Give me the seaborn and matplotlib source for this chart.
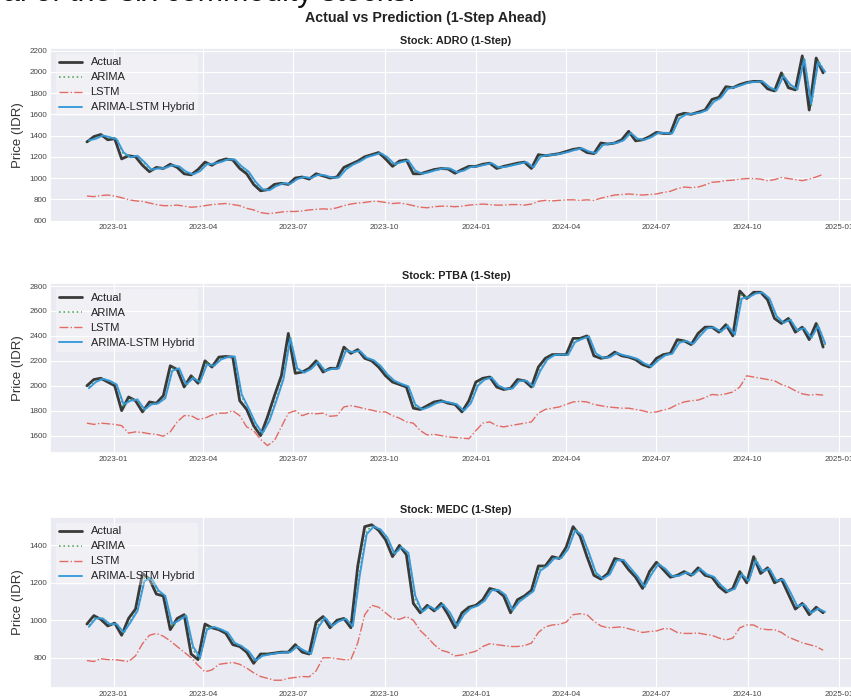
import matplotlib
matplotlib.use("Agg")
import matplotlib.pyplot as plt
import matplotlib.dates as mdates
import numpy as np
import pandas as pd
import seaborn as sns

# ---------------- data (weekly samples) ----------------
start_date = "2022-12-05"
n_points = 107

adro_actual = [
    1340, 1390, 1410, 1360, 1370, 1180, 1210, 1200, 1120, 1060,
    1100, 1090, 1130, 1100, 1040, 1030, 1080, 1150, 1120, 1160,
    1180, 1170, 1090, 1040, 940, 880, 890, 940, 950, 940,
    1000, 1010, 990, 1040, 1020, 1000, 1010, 1100, 1130, 1160,
    1200, 1220, 1240, 1180, 1110, 1160, 1170, 1040, 1040, 1060,
    1080, 1090, 1085, 1045, 1080, 1110, 1110, 1130, 1140, 1090,
    1110, 1125, 1140, 1150, 1090, 1220, 1210, 1220, 1230, 1250,
    1270, 1280, 1240, 1230, 1330, 1320, 1330, 1360, 1440, 1350,
    1360, 1390, 1430, 1420, 1420, 1590, 1610, 1600, 1620, 1640,
    1740, 1760, 1860, 1850, 1880, 1900, 1910, 1910, 1840, 1820,
    1990, 1850, 1830, 2150, 1640, 2130, 1990]
adro_arima = [
    1345, 1380, 1405, 1375, 1368, 1220, 1200, 1205, 1135, 1070,
    1095, 1092, 1125, 1105, 1050, 1032, 1072, 1140, 1128, 1155,
    1178, 1172, 1100, 1050, 955, 888, 888, 932, 950, 942,
    995, 1010, 995, 1035, 1022, 1002, 1008, 1090, 1128, 1158,
    1198, 1218, 1238, 1188, 1120, 1155, 1168, 1055, 1040, 1058,
    1078, 1090, 1088, 1050, 1075, 1108, 1110, 1128, 1140, 1095,
    1108, 1122, 1138, 1150, 1095, 1210, 1212, 1220, 1230, 1248,
    1268, 1280, 1245, 1232, 1320, 1322, 1330, 1358, 1432, 1360,
    1360, 1388, 1428, 1422, 1420, 1575, 1605, 1602, 1618, 1640,
    1730, 1758, 1850, 1852, 1878, 1900, 1908, 1910, 1848, 1822,
    1975, 1865, 1832, 2135, 1670, 2110, 1995]
adro_lstm = [
    830, 825, 835, 840, 830, 815, 795, 785, 780, 765,
    750, 740, 740, 745, 735, 725, 730, 740, 750, 755,
    760, 750, 740, 715, 700, 675, 665, 670, 680, 685,
    685, 690, 700, 705, 710, 705, 720, 740, 755, 765,
    770, 780, 780, 770, 760, 765, 755, 740, 725, 720,
    730, 735, 735, 730, 735, 745, 750, 755, 750, 745,
    745, 750, 750, 745, 755, 780, 790, 785, 790, 795,
    795, 790, 795, 790, 810, 825, 840, 845, 850, 845,
    840, 845, 850, 865, 875, 900, 915, 910, 915, 935,
    960, 965, 975, 980, 990, 995, 995, 990, 975, 985,
    1005, 995, 985, 975, 990, 1010, 1035]
adro_hybrid = [
    1355, 1370, 1400, 1385, 1365, 1240, 1195, 1210, 1150, 1080,
    1090, 1095, 1120, 1110, 1060, 1035, 1065, 1130, 1135, 1150,
    1175, 1175, 1110, 1060, 965, 895, 885, 925, 950, 945,
    990, 1010, 1000, 1030, 1025, 1005, 1005, 1080, 1125, 1155,
    1195, 1215, 1235, 1195, 1130, 1150, 1165, 1070, 1040, 1055,
    1075, 1090, 1090, 1055, 1070, 1105, 1110, 1125, 1140, 1100,
    1105, 1120, 1135, 1150, 1100, 1200, 1215, 1220, 1230, 1245,
    1265, 1280, 1250, 1235, 1310, 1325, 1330, 1355, 1425, 1370,
    1360, 1385, 1425, 1425, 1420, 1560, 1600, 1605, 1615, 1640,
    1720, 1755, 1840, 1855, 1875, 1900, 1905, 1910, 1855, 1825,
    1960, 1880, 1835, 2120, 1700, 2090, 2000]

ptba_actual = [
    2000, 2050, 2060, 2030, 2000, 1800, 1910, 1880, 1790, 1870,
    1860, 1920, 2160, 2130, 1990, 2080, 2020, 2200, 2150, 2230,
    2235, 2230, 1880, 1810, 1680, 1600, 1750, 1920, 2080, 2420,
    2100, 2110, 2140, 2200, 2110, 2140, 2140, 2310, 2260, 2290,
    2220, 2200, 2150, 2080, 2030, 2010, 1990, 1820, 1810, 1840,
    1870, 1880, 1860, 1850, 1790, 1880, 2030, 2060, 2070, 1990,
    1970, 1980, 2050, 2040, 1990, 2150, 2220, 2250, 2250, 2250,
    2380, 2380, 2400, 2240, 2220, 2230, 2270, 2240, 2230, 2210,
    2170, 2150, 2220, 2250, 2260, 2370, 2360, 2330, 2420, 2470,
    2470, 2430, 2490, 2400, 2760, 2700, 2750, 2750, 2690, 2540,
    2500, 2540, 2430, 2470, 2370, 2500, 2310]
ptba_arima = [
    1990, 2040, 2058, 2035, 2005, 1830, 1895, 1885, 1800, 1860,
    1860, 1910, 2140, 2135, 2000, 2070, 2025, 2185, 2155, 2220,
    2232, 2232, 1910, 1815, 1690, 1610, 1735, 1900, 2065, 2400,
    2120, 2108, 2138, 2195, 2115, 2138, 2140, 2295, 2265, 2285,
    2222, 2202, 2155, 2085, 2035, 2012, 1992, 1835, 1810, 1835,
    1865, 1878, 1862, 1850, 1795, 1870, 2015, 2055, 2068, 1995,
    1972, 1980, 2045, 2040, 1992, 2135, 2215, 2248, 2250, 2249,
    2365, 2378, 2398, 2250, 2222, 2229, 2266, 2242, 2231, 2212,
    2174, 2152, 2212, 2248, 2259, 2358, 2360, 2332, 2410, 2465,
    2469, 2432, 2485, 2405, 2730, 2705, 2745, 2749, 2695, 2550,
    2502, 2535, 2438, 2466, 2378, 2490, 2325]
ptba_lstm = [
    1700, 1690, 1700, 1695, 1690, 1680, 1620, 1630, 1625, 1615,
    1610, 1595, 1630, 1710, 1760, 1760, 1730, 1740, 1765, 1780,
    1780, 1800, 1760, 1670, 1640, 1570, 1520, 1560, 1670, 1780,
    1800, 1760, 1780, 1775, 1780, 1755, 1760, 1830, 1840, 1830,
    1815, 1805, 1790, 1790, 1760, 1740, 1710, 1700, 1640, 1605,
    1610, 1600, 1590, 1585, 1580, 1575, 1640, 1700, 1710, 1680,
    1670, 1680, 1690, 1700, 1710, 1780, 1810, 1820, 1830, 1850,
    1870, 1875, 1870, 1850, 1840, 1830, 1825, 1820, 1820, 1810,
    1800, 1785, 1790, 1805, 1820, 1850, 1870, 1880, 1885, 1905,
    1930, 1925, 1935, 1950, 1990, 2080, 2070, 2060, 2050, 2040,
    2010, 1990, 1960, 1935, 1925, 1930, 1925]
ptba_hybrid = [
    1980, 2030, 2055, 2040, 2010, 1850, 1880, 1890, 1810, 1850,
    1860, 1900, 2120, 2140, 2010, 2060, 2030, 2170, 2160, 2210,
    2230, 2235, 1930, 1820, 1700, 1620, 1720, 1880, 2050, 2380,
    2140, 2105, 2135, 2190, 2120, 2135, 2140, 2280, 2270, 2280,
    2225, 2205, 2160, 2090, 2040, 2015, 1995, 1850, 1810, 1830,
    1860, 1875, 1865, 1850, 1800, 1860, 2000, 2050, 2065, 2000,
    1975, 1978, 2040, 2040, 1995, 2120, 2210, 2245, 2250, 2248,
    2350, 2375, 2395, 2260, 2225, 2228, 2262, 2245, 2232, 2215,
    2178, 2155, 2205, 2245, 2258, 2345, 2360, 2335, 2400, 2460,
    2468, 2435, 2480, 2410, 2700, 2710, 2740, 2748, 2700, 2560,
    2505, 2530, 2445, 2462, 2385, 2480, 2340]

medc_actual = [
    980, 1025, 1005, 970, 985, 920, 1010, 1060, 1250, 1220,
    1140, 1130, 950, 1010, 1030, 820, 790, 980, 960, 950,
    930, 870, 860, 830, 770, 820, 820, 825, 830, 830,
    870, 830, 820, 990, 1020, 960, 1000, 1010, 960, 1290,
    1500, 1510, 1480, 1430, 1340, 1400, 1350, 1090, 1040, 1080,
    1050, 1090, 1030, 960, 1040, 1070, 1080, 1110, 1170, 1160,
    1130, 1040, 1110, 1130, 1160, 1290, 1290, 1340, 1330, 1390,
    1500, 1450, 1340, 1240, 1220, 1250, 1330, 1320, 1270, 1230,
    1170, 1260, 1310, 1270, 1230, 1240, 1260, 1240, 1280, 1240,
    1230, 1180, 1150, 1170, 1260, 1200, 1340, 1250, 1280, 1200,
    1220, 1140, 1060, 1090, 1030, 1070, 1040]
medc_arima = [
    972, 1018, 1008, 975, 982, 928, 1000, 1055, 1230, 1222,
    1150, 1130, 965, 1005, 1028, 840, 795, 965, 962, 951,
    932, 875, 861, 832, 778, 815, 819, 825, 829, 830,
    865, 834, 821, 975, 1018, 965, 998, 1009, 964, 1265,
    1480, 1505, 1482, 1435, 1348, 1395, 1355, 1110, 1042, 1078,
    1052, 1088, 1035, 965, 1035, 1068, 1079, 1108, 1165, 1161,
    1132, 1048, 1105, 1129, 1158, 1278, 1290, 1335, 1331, 1385,
    1490, 1452, 1350, 1248, 1221, 1248, 1325, 1321, 1274, 1232,
    1175, 1252, 1305, 1272, 1232, 1239, 1258, 1241, 1278, 1242,
    1231, 1184, 1152, 1169, 1252, 1205, 1330, 1256, 1278, 1205,
    1219, 1145, 1068, 1088, 1035, 1066, 1042]
medc_lstm = [
    785, 780, 795, 790, 790, 785, 780, 810, 875, 920,
    930, 915, 890, 860, 830, 800, 760, 725, 735, 765,
    770, 775, 765, 745, 720, 700, 690, 680, 680, 690,
    695, 700, 698, 730, 800, 800, 795, 790, 790, 880,
    1030, 1080, 1070, 1040, 1010, 1005, 1020, 1000, 945, 910,
    870, 840, 830, 810, 815, 825, 835, 860, 875, 870,
    865, 860, 860, 865, 878, 935, 965, 975, 978, 990,
    1030, 1035, 1030, 995, 970, 960, 962, 965, 955, 945,
    935, 940, 943, 955, 955, 935, 930, 930, 932, 925,
    920, 905, 895, 905, 960, 975, 975, 955, 950, 950,
    935, 910, 895, 880, 870, 860, 840]
medc_hybrid = [
    965, 1010, 1010, 980, 980, 935, 990, 1050, 1210, 1225,
    1160, 1130, 980, 1000, 1025, 860, 800, 950, 965, 952,
    935, 880, 862, 835, 785, 810, 818, 824, 828, 830,
    860, 838, 822, 960, 1015, 970, 995, 1008, 968, 1240,
    1460, 1500, 1485, 1440, 1355, 1390, 1360, 1130, 1045, 1075,
    1055, 1085, 1040, 970, 1030, 1065, 1078, 1105, 1160, 1162,
    1135, 1055, 1100, 1128, 1155, 1265, 1290, 1330, 1332, 1380,
    1480, 1455, 1360, 1255, 1222, 1245, 1320, 1322, 1278, 1235,
    1180, 1245, 1300, 1275, 1235, 1238, 1255, 1242, 1275, 1245,
    1232, 1188, 1155, 1168, 1245, 1210, 1320, 1262, 1275, 1210,
    1218, 1150, 1075, 1085, 1040, 1062, 1045]

stocks = ["ADRO", "PTBA", "MEDC"]
series_labels = ["Actual", "ARIMA", "LSTM", "ARIMA-LSTM Hybrid"]
main_title = "Actual vs Prediction (1-Step Ahead)"
page_text = "al of the six commodity stocks."

# ---------------- figure ----------------
sns.set_theme(style="darkgrid")
plt.rcParams["font.family"] = ["Liberation Sans", "DejaVu Sans"]

W, H = 851, 700
fig = plt.figure(figsize=(W / 100, H / 100), dpi=100)

dates = pd.date_range(start_date, periods=n_points, freq="7D")
pred_dates = dates + pd.Timedelta(days=2)

data = {
    "ADRO": (adro_actual, adro_arima, adro_lstm, adro_hybrid),
    "PTBA": (ptba_actual, ptba_arima, ptba_lstm, ptba_hybrid),
    "MEDC": (medc_actual, medc_arima, medc_lstm, medc_hybrid),
}

# axes boxes in pixels: (top, bottom)
boxes = [(48, 221.5), (283.3, 453.3), (517, 688)]
left_px, right_px = 50, 862

for stock, (top, bot) in zip(stocks, boxes):
    ax = fig.add_axes([left_px / W, 1 - bot / H, (right_px - left_px) / W, (bot - top) / H])
    actual, arima, lstm, hybrid = data[stock]
    sns.lineplot(x=dates, y=actual, ax=ax, color="#262626", linewidth=2.0,
                 alpha=0.9, label=series_labels[0])
    sns.lineplot(x=pred_dates, y=arima, ax=ax, color="#3d9e4a", linestyle=":",
                 linewidth=1.2, alpha=0.85, label=series_labels[1])
    sns.lineplot(x=dates, y=lstm, ax=ax, color="#e0554a", linestyle="-.",
                 linewidth=1.0, alpha=0.85, label=series_labels[2])
    sns.lineplot(x=pred_dates, y=hybrid, ax=ax, color="#3498db", linewidth=1.4,
                 alpha=0.95, label=series_labels[3])

    ax.set_title(f"Stock: {stock} (1-Step)", fontsize=7.8, fontweight="bold",
                 pad=3, color="#222222")
    ax.set_ylabel("Price (IDR)", fontsize=9.5, color="#333333", labelpad=4)
    ax.set_xlabel("")
    ax.xaxis.set_major_locator(mdates.MonthLocator(bymonth=[1, 4, 7, 10]))
    ax.xaxis.set_major_formatter(mdates.DateFormatter("%Y-%m"))
    ax.tick_params(axis="both", labelsize=5.8, pad=2, colors="#444444", length=0)
    ax.grid(True, color="white", linewidth=0.8)
    leg = ax.legend(loc="upper left", fontsize=8, frameon=True, facecolor="white",
                    framealpha=0.3, edgecolor="none", handlelength=2.0,
                    labelspacing=0.45, borderpad=0.35)
    for t in leg.get_texts():
        t.set_color("#222222")

fig.text(0.5, 1 - 18 / H, main_title, ha="center", va="center",
         fontsize=10.3, fontweight="bold", color="#222222")
fig.text(3 / W, 1 - 1 / H, page_text, ha="left", va="baseline",
         fontsize=22, color="#111111")

fig.savefig("out.png", dpi=100)
